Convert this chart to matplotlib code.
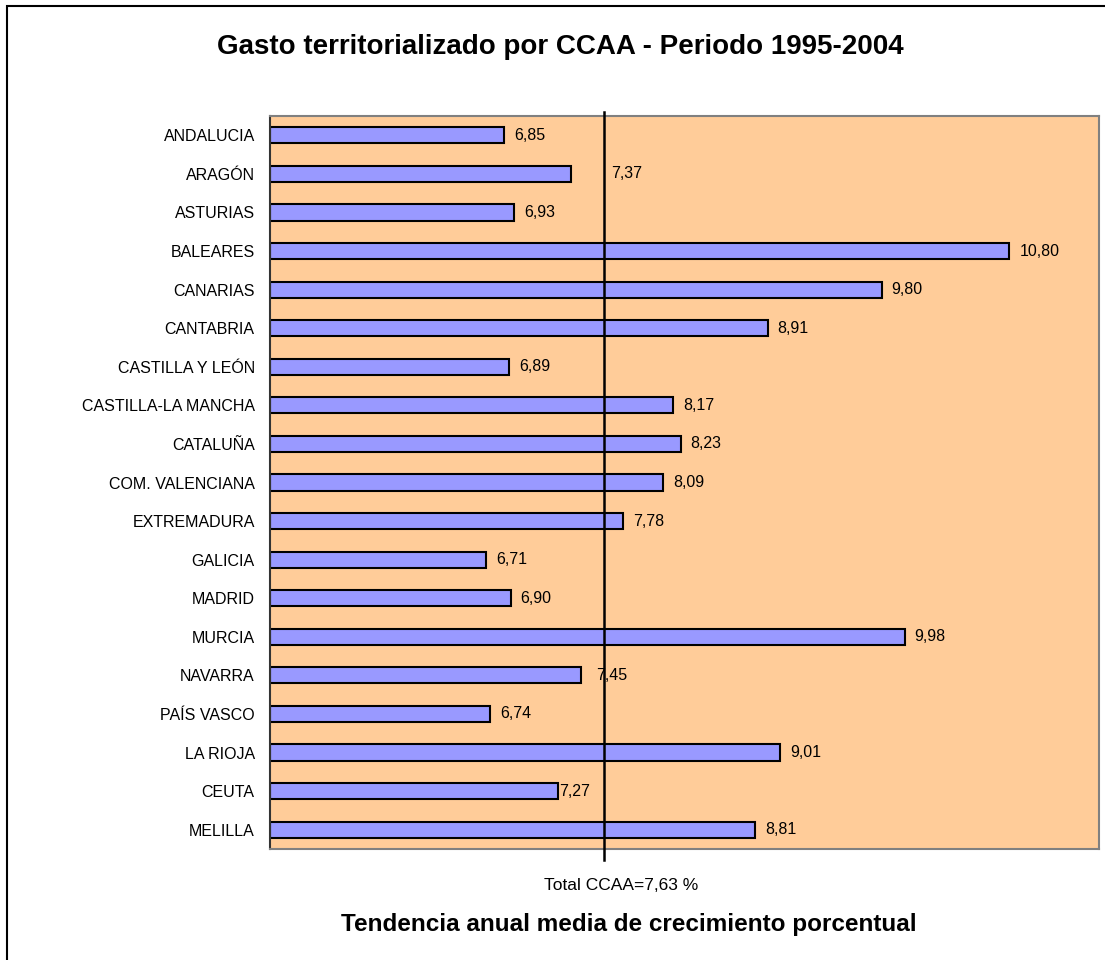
import matplotlib.pyplot as plt
from matplotlib.patches import Rectangle

plt.rcParams['font.family'] = ['Liberation Sans', 'DejaVu Sans']

regions = ['ANDALUCIA', 'ARAGÓN', 'ASTURIAS', 'BALEARES', 'CANARIAS', 'CANTABRIA',
           'CASTILLA Y LEÓN', 'CASTILLA-LA MANCHA', 'CATALUÑA', 'COM. VALENCIANA',
           'EXTREMADURA', 'GALICIA', 'MADRID', 'MURCIA', 'NAVARRA', 'PAÍS VASCO',
           'LA RIOJA', 'CEUTA', 'MELILLA']
growth = [6.85, 7.37, 6.93, 10.80, 9.80, 8.91, 6.89, 8.17, 8.23, 8.09,
          7.78, 6.71, 6.90, 9.98, 7.45, 6.74, 9.01, 7.27, 8.81]
total_ccaa = 7.63

# offset (px) of the value label from the bar end, a few labels are shifted
label_offset = {'ARAGÓN': 40, 'NAVARRA': 15, 'CEUTA': 1}

fig = plt.figure(figsize=(11.05, 9.6), dpi=100)
ax = fig.add_axes([270 / 1105, 1 - 849 / 960, 829 / 1105, 733 / 960])
ax.set_facecolor('#FFCC99')

ypos = list(range(len(regions)))
ax.barh(ypos, [g - 5.02 for g in growth], left=5.02, height=0.42,
        color='#9999FF', edgecolor='black', linewidth=1.5, zorder=2)

for i, (reg, g) in enumerate(zip(regions, growth)):
    off = label_offset.get(reg, 10)
    ax.annotate(f'{g:.2f}'.replace('.', ','), (g, i), xytext=(off * 0.72, 0),
                textcoords='offset points', va='center', ha='left', fontsize=11.5)

ax.set_xlim(5.02, 11.5)
ax.set_ylim(len(regions) - 0.5, -0.5)
ax.set_yticks(ypos)
ax.set_yticklabels(regions, fontsize=11.5)
ax.tick_params(axis='y', length=0, pad=11)
ax.set_xticks([])
for s in ax.spines.values():
    s.set_color('#808080')
    s.set_linewidth(1.5)
ax.spines['left'].set_color('#333333')

ax.axvline(total_ccaa, ymin=-0.015, ymax=1.005, color='black', linewidth=1.8,
           clip_on=False, zorder=3)

total_txt = 'Total CCAA=' + f'{total_ccaa:.2f}'.replace('.', ',') + ' %'
fig.text(560 / 1105, 1 - 47 / 960, 'Gasto territorializado por CCAA - Periodo 1995-2004',
         ha='center', va='center', fontsize=20, fontweight='bold')
fig.text(621 / 1105, 1 - 886 / 960, total_txt, ha='center', va='center', fontsize=12.5)
fig.text(629 / 1105, 1 - 924 / 960, 'Tendencia anual media de crecimiento porcentual',
         ha='center', va='center', fontsize=17.5, fontweight='bold')

# outer chart frame (right and bottom sides fall outside the image)
fig.add_artist(Rectangle((7 / 1105, -0.05), 1.1, 1.05 - 6 / 960, fill=False,
                         edgecolor='black', linewidth=1.5, transform=fig.transFigure))

fig.savefig('out.png', dpi=100)
